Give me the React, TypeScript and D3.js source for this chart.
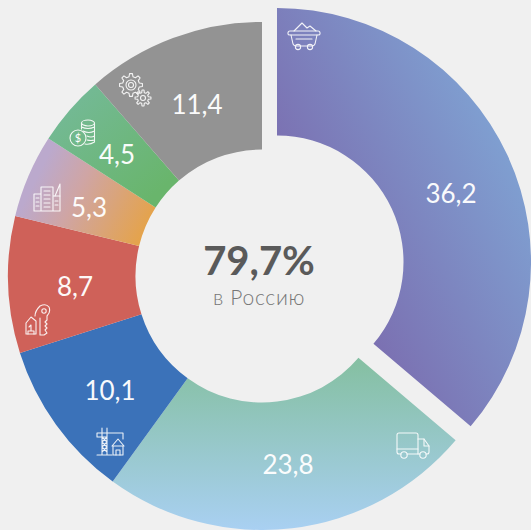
import React from "react";
import * as d3 from "d3";

const categories = ["mining", "transport", "construction", "realty", "city", "finance", "other"];
const values = [36.2, 23.8, 10.1, 8.7, 5.3, 4.5, 11.4];
const valueLabels = ["36,2", "23,8", "10,1", "8,7", "5,3", "4,5", "11,4"];
const centerTitle = "79,7%";
const centerSub = "в Россию";

const W = 531, H = 530;
const cx = 262, cy = 276, R = 254, r = 126.5;
const fills = ["url(#gMine)", "url(#gTrans)", "#3b72b9", "#cf6159", "url(#gCity)", "url(#gFin)", "#939393"];
const labelPos: [number, number][] = [[451, 193], [288, 464], [110, 390], [75, 286], [89, 207], [117, 154], [197, 104]];
const offsets: [number, number][] = [[15, -14], [0, 0], [0, 0], [0, 0], [0, 0], [0, 0], [0, 0]];
const FONT = "Lato, 'Noto Sans', sans-serif";

const Icon = ({ x, y, children }: { x: number; y: number; children: React.ReactNode }) => (
  <g transform={`translate(${x},${y})`} fill="none" stroke="#fff" strokeWidth={1.1} strokeLinejoin="round" strokeLinecap="round" opacity={0.9}>{children}</g>
);

function gearPath(gx: number, gy: number, ro: number, ri: number, teeth: number) {
  const pts: [number, number][] = [];
  for (let i = 0; i < teeth; i++) {
    const a = (i / teeth) * 2 * Math.PI, s = (2 * Math.PI) / teeth;
    [[-0.3, ri], [-0.16, ro], [0.16, ro], [0.3, ri]].forEach(([f, rad]) => {
      pts.push([gx + rad * Math.cos(a + f * s), gy + rad * Math.sin(a + f * s)]);
    });
  }
  return d3.line()(pts) + "Z";
}

export default function App() {
  const pie = d3.pie<number>().sort(null).value((d) => d)(values);
  const arc = d3.arc<d3.PieArcDatum<number>>().innerRadius(r).outerRadius(R);
  const toSlice = (i: number) => `translate(${-(cx + offsets[i][0])},${-(cy + offsets[i][1])})`;
  return (
    <svg width={W} height={H} style={{ position: "absolute", left: 0, top: 0, background: "#f0f0f0" }} fontFamily={FONT}>
      <defs>
        <linearGradient id="gMine" gradientUnits="userSpaceOnUse" gradientTransform={toSlice(0)} x1="340" y1="300" x2="530" y2="205">
          <stop offset="0" stopColor="#7b6eb0" />
          <stop offset="1" stopColor="#7f9ed0" />
        </linearGradient>
        <linearGradient id="gTrans" gradientUnits="userSpaceOnUse" gradientTransform={toSlice(1)} x1="0" y1="365" x2="0" y2="530">
          <stop offset="0" stopColor="#86c0a4" />
          <stop offset="1" stopColor="#a9d0f2" />
        </linearGradient>
        <linearGradient id="gCity" gradientUnits="userSpaceOnUse" gradientTransform={toSlice(4)} x1="40" y1="170" x2="150" y2="225">
          <stop offset="0" stopColor="#bba9cd" />
          <stop offset="0.35" stopColor="#cfa5a5" />
          <stop offset="1" stopColor="#e5a349" />
        </linearGradient>
        <linearGradient id="gFin" gradientUnits="userSpaceOnUse" gradientTransform={toSlice(5)} x1="80" y1="100" x2="160" y2="190">
          <stop offset="0" stopColor="#73b993" />
          <stop offset="1" stopColor="#69b56c" />
        </linearGradient>
      </defs>
      {pie.map((p, i) => (
        <path key={categories[i]} d={arc(p) as string} fill={fills[i]} transform={`translate(${cx + offsets[i][0]},${cy + offsets[i][1]})`} />
      ))}
      {valueLabels.map((t, i) => (
        <text key={t} x={labelPos[i][0]} y={labelPos[i][1]} textAnchor="middle" dominantBaseline="central" fill="#fff" fontSize={26} opacity={0.96}>{t}</text>
      ))}
      <text x={259} y={260} textAnchor="middle" dominantBaseline="central" fill="#5a5a5a" fontSize={40} fontWeight={700}>{centerTitle}</text>
      <text x={259} y={296} textAnchor="middle" dominantBaseline="central" fill="#777" fontSize={21} letterSpacing={0.7} fontWeight={300}>{centerSub}</text>

      {/* mine cart */}
      <Icon x={304} y={37}>
        <path d="M-16,-4Q-16,-6 -14,-6H14Q16,-6 16,-4V-3Q16,-2 14,-2H-14Q-16,-2 -16,-3Z" />
        <path d="M-13,-2L-11,7Q-10,9 -8,9H8Q10,9 11,7L13,-2" />
        <path d="M-10,-6L-2,-14L3,-9L6,-11L12,-6" />
        <path d="M-8,2H8" />
        <circle cx={-6} cy={10} r={2.6} /><circle cx={6} cy={10} r={2.6} />
      </Icon>
      {/* truck */}
      <Icon x={413} y={444}>
        <path d="M-12,10H-14Q-16,10 -16,8V-9Q-16,-11 -14,-11H3Q5,-11 5,-9V10H-6" />
        <path d="M5,-5H11L16,2V8Q16,10 14,10H13M7,10H5" />
        <path d="M-16,5H5M11,-5L11,2H16" />
        <circle cx={-9} cy={11} r={3.2} /><circle cx={10} cy={11} r={3.2} />
      </Icon>
      {/* crane + house */}
      <Icon x={110} y={442}>
        <path d="M-8,-14V13M-3,-14V13M-13,13H2M-13,-9H13V-3M-13,-9V-5H-3M-8,-5L-3,0L-8,5L-3,10M-3,-5L-8,0L-3,5L-8,10" />
        <path d="M2,4L8,-3L14,4M3,4V13H13V4Z" /><path d="M6,13V8H10V13" />
      </Icon>
      {/* key + tag */}
      <Icon x={37} y={320}>
        <path d="M-11,14V3L-6,-3L-1,1V14Z" /><path d="M-9,14V11H-3V14M-6,11V5L-8,7" />
        <path d="M-2,-4Q-2,-9 3,-14Q9,-17 12,-13Q14,-8 10,-4V0L8,2L10,4L8,6L10,8L8,10L10,13L7,15H3V-2" />
        <circle cx={7} cy={-9} r={2.2} />
      </Icon>
      {/* buildings */}
      <Icon x={47} y={198}>
        <path d="M-13,13V-4H-6V13M-6,13V-11H6V13M6,13V-2H13V13ZM-13,13H13" />
        <path d="M8,-2L13,-14V-2" />
        <path d="M-3,-7H3M-3,-3H3M-3,1H3M-3,5H3M-3,9H3M-11,0H-8M-11,4H-8M-11,8H-8M8,3H11M8,7H11" />
      </Icon>
      {/* coins */}
      <Icon x={82} y={131}>
        <ellipse cx={6} cy={-8} rx={6.5} ry={3} />
        <path d="M-0.5,-8V-2M12.5,-8V11Q8,14 3,13M-0.5,-4Q6,-1 12.5,-4M1,0Q7,3 12.5,0M5,5Q9,7 12.5,5M5,9Q9,10 12.5,9" />
        <circle cx={-4} cy={7} r={8} />
      </Icon>
      <text x={78} y={142} textAnchor="middle" fill="#fff" fontSize={11}>$</text>
      {/* gears */}
      <Icon x={134} y={90}>
        <path d={gearPath(-3, -5, 11.5, 8.5, 8)} />
        <circle cx={-3} cy={-5} r={5} /><circle cx={-3} cy={-5} r={2.5} />
        <path d={gearPath(9, 8, 8, 5.5, 8)} />
        <circle cx={9} cy={8} r={2.5} />
      </Icon>
    </svg>
  );
}
